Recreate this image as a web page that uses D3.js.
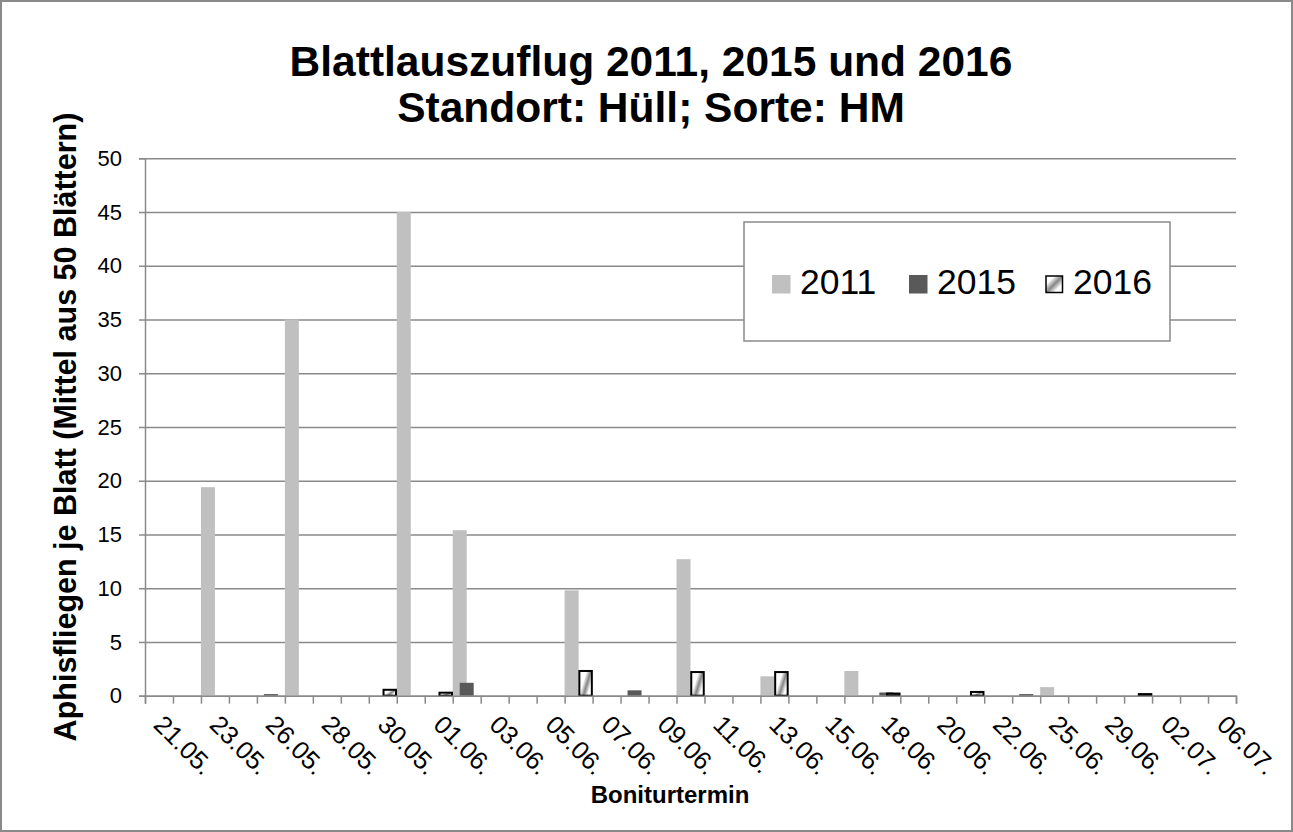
<!DOCTYPE html>
<html>
<head>
<meta charset="utf-8">
<script src="https://cdn.jsdelivr.net/npm/d3@7"></script>
<style>
  body { margin: 0; background: #fff; }
  svg text { font-family: "Liberation Sans", Arial, sans-serif; fill: #000; }
</style>
</head>
<body>
<div id="chart"></div>
<script>
// 39 Boniturtermine, only every second one gets a label on the axis
const tickLabels = ["21.05.", "23.05.", "26.05.", "28.05.", "30.05.", "01.06.", "03.06.", "05.06.", "07.06.", "09.06.",
                    "11.06.", "13.06.", "15.06.", "18.06.", "20.06.", "22.06.", "25.06.", "29.06.", "02.07.", "06.07."];
const dateCount = 39;
const seriesNames = ["2011", "2015", "2016"];

const values2011 = [0, 0, 19.4, 0, 0, 35, 0, 0, 0, 45,
                    0, 15.4, 0, 0, 0, 9.8, 0, 0, 0, 12.7,
                    0, 0, 1.8, 0, 0, 2.3, 0, 0, 0, 0,
                    0, 0, 0.8, 0, 0, 0, 0, 0, 0];
const values2015 = [0, 0, 0, 0, 0.15, 0, 0, 0, 0, 0,
                    0, 1.2, 0, 0, 0, 0, 0, 0.5, 0, 0,
                    0, 0, 0, 0, 0, 0, 0.3, 0, 0, 0,
                    0, 0.15, 0, 0, 0, 0, 0, 0, 0];
const values2016 = [0, 0, 0, 0, 0, 0, 0, 0, 0.55, 0,
                    0.28, 0, 0, 0, 0, 2.3, 0, 0, 0, 2.2,
                    0, 0, 2.2, 0, 0, 0, 0.2, 0, 0, 0.35,
                    0, 0, 0, 0, 0, 0.15, 0, 0, 0];
const yTicks = [0, 5, 10, 15, 20, 25, 30, 35, 40, 45, 50];

const width = 1293, height = 832;
const plotLeft = 145, plotRight = 1236, plotTop = 158.3, plotBottom = 695.7;
const grid = "#8a8a8a";

const svg = d3.select("#chart").append("svg")
    .attr("width", width)
    .attr("height", height);

// white fill with a grey diagonal stripe for 2016
const defs = svg.append("defs");
function stripe(id, y1) {
    const g = defs.append("linearGradient")
        .attr("id", id)
        .attr("x1", 0).attr("y1", y1).attr("x2", 1).attr("y2", 1);
    [[0, "#fff"], [0.25, "#fff"], [0.5, "#858585"], [0.75, "#fff"], [1, "#fff"]].forEach(s =>
        g.append("stop").attr("offset", s[0]).attr("stop-color", s[1]));
}
stripe("diag", 0.4);
stripe("diagL", 0);

// outer frame
svg.append("rect")
    .attr("x", 1).attr("y", 1)
    .attr("width", width - 2).attr("height", height - 2)
    .attr("fill", "#fff").attr("stroke", grid).attr("stroke-width", 2);

const idx = d3.range(dateCount);
const x = d3.scaleBand().domain(idx).range([plotLeft, plotRight]).padding(0);
const xEdge = d3.scaleLinear().domain([0, dateCount]).range([plotLeft, plotRight]);
const y = d3.scaleLinear().domain([0, 50]).range([plotBottom, plotTop]);

// gridlines
svg.append("g")
    .attr("transform", `translate(${plotLeft},0)`)
    .call(d3.axisLeft(y).tickValues(yTicks).tickSize(-(plotRight - plotLeft)).tickFormat(""))
    .call(g => g.select(".domain").remove())
    .call(g => g.selectAll("line").attr("stroke", grid).attr("stroke-width", 1.5));

// y axis
const yAxis = svg.append("g")
    .attr("transform", `translate(${plotLeft},0)`)
    .call(d3.axisLeft(y).tickValues(yTicks).tickSize(6).tickPadding(17));
yAxis.select(".domain").attr("stroke", grid).attr("stroke-width", 1.5);
yAxis.selectAll("line").attr("stroke", grid).attr("stroke-width", 1.5);
yAxis.selectAll("text").attr("font-size", 22).style("font-family", "Liberation Sans, Arial");

// bars: Excel style, 50% overlap, no gap
const bw = x.bandwidth();
const offset = d3.scaleLinear().domain([0, 2]).range([0, bw / 2]);
const seriesData = [values2011, values2015, values2016];
const fills = ["#c0c0c0", "#595959", "url(#diag)"];

seriesData.forEach((vals, s) => {
    svg.append("g").selectAll("rect")
        .data(vals.map((v, i) => ({i, v})).filter(d => d.v > 0))
        .enter().append("rect")
        .attr("x", d => x(d.i) + offset(s) + (s === 2 ? 0.75 : 0))
        .attr("width", bw / 2 - (s === 2 ? 1.5 : 0))
        .attr("y", d => y(d.v))
        .attr("height", d => plotBottom - y(d.v))
        .attr("fill", fills[s])
        .attr("stroke", s === 2 ? "#000" : "none")
        .attr("stroke-width", s === 2 ? 2 : 0);
});

// x axis
const xAxis = svg.append("g")
    .attr("transform", `translate(0,${plotBottom})`)
    .call(d3.axisBottom(xEdge).tickValues(d3.range(dateCount + 1)).tickSize(8).tickFormat(""));
xAxis.select(".domain").attr("stroke", grid).attr("stroke-width", 1.5);
xAxis.selectAll("line").attr("stroke", grid).attr("stroke-width", 1.5);

svg.append("g").selectAll("text")
    .data(tickLabels)
    .enter().append("text")
    .attr("transform", (d, k) => `translate(${x(k * 2) + bw / 2 + 6},${plotBottom + 18}) rotate(45)`)
    .attr("font-size", 25.5)
    .attr("dy", "0.7em")
    .text(d => d);

// titles
const title = svg.append("text")
    .attr("x", 651)
    .attr("text-anchor", "middle")
    .attr("font-size", 42.5)
    .attr("font-weight", "bold");
title.append("tspan").attr("x", 651).attr("y", 76).text("Blattlauszuflug 2011, 2015 und 2016");
title.append("tspan").attr("x", 651).attr("y", 122).text("Standort: Hüll; Sorte: HM");

svg.append("text")
    .attr("transform", "translate(76,427) rotate(-90)")
    .attr("text-anchor", "middle")
    .attr("font-size", 30.5)
    .attr("font-weight", "bold")
    .text("Aphisfliegen je Blatt (Mittel aus 50 Blättern)");

svg.append("text")
    .attr("x", 670).attr("y", 803)
    .attr("text-anchor", "middle")
    .attr("font-size", 24)
    .attr("font-weight", "bold")
    .text("Boniturtermin");

// legend
const legend = svg.append("g");
legend.append("rect")
    .attr("x", 744).attr("y", 222)
    .attr("width", 426).attr("height", 119)
    .attr("fill", "#fff").attr("stroke", grid).attr("stroke-width", 1.5);
const legendX = [772, 909, 1045];
const legendFills = ["#c0c0c0", "#595959", "url(#diagL)"];
seriesNames.forEach((name, s) => {
    legend.append("rect")
        .attr("x", legendX[s] + (s === 2 ? 1 : 0)).attr("y", 275 + (s === 2 ? 1 : 0))
        .attr("width", s === 2 ? 16.5 : 18.5).attr("height", s === 2 ? 16.5 : 18.5)
        .attr("fill", legendFills[s])
        .attr("stroke", s === 2 ? "#000" : "none")
        .attr("stroke-width", s === 2 ? 1.5 : 0);
    legend.append("text")
        .attr("x", legendX[s] + 28).attr("y", 294)
        .attr("font-size", 35.5)
        .text(name);
});
</script>
</body>
</html>
